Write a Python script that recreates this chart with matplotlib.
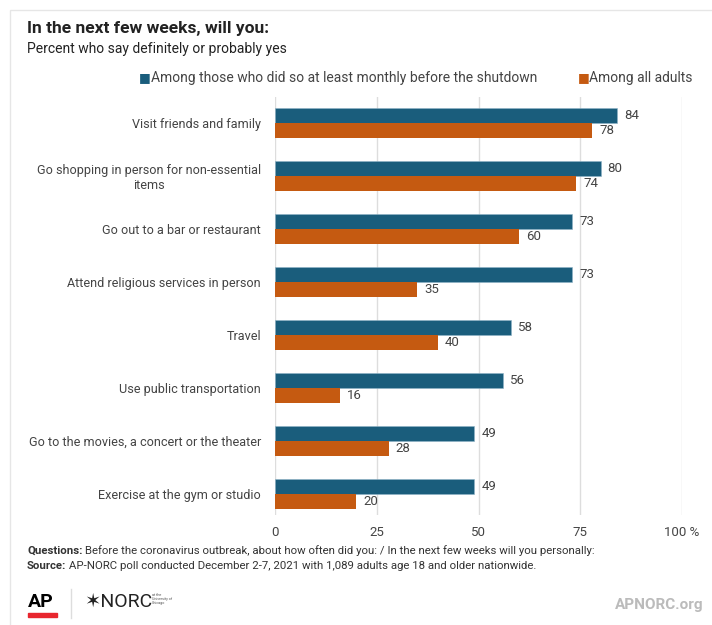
import numpy as np
import matplotlib.pyplot as plt
from matplotlib.patches import Rectangle

FONT = ['Roboto', 'DejaVu Sans']
plt.rcParams['font.family'] = FONT

categories = ["Visit friends and family",
              "Go shopping in person for non-essential\nitems",
              "Go out to a bar or restaurant",
              "Attend religious services in person",
              "Travel",
              "Use public transportation",
              "Go to the movies, a concert or the theater",
              "Exercise at the gym or studio"]
monthly = [84, 80, 73, 73, 58, 56, 49, 49]
all_adults = [78, 74, 60, 35, 40, 16, 28, 20]
series_names = ["Among those who did so at least monthly before the shutdown",
                "Among all adults"]

BLUE = '#1a5d7c'
ORANGE = '#c55a11'
TXT = '#444444'

fig = plt.figure(figsize=(7.12, 6.25), dpi=100)
W, H = 712, 625

def fx(px):
    return px / W

def fy(py):
    return 1 - py / H

# light frame
fig.patches.append(Rectangle((fx(10), fy(640)), 1, fy(10) - fy(640), transform=fig.transFigure,
                             fill=False, edgecolor='#e6e6e6', lw=1))

ax = fig.add_axes([fx(275), fy(515), fx(682) - fx(275), fy(97) - fy(515)])
y = np.arange(len(categories))
h = 0.283
ax.barh(y - h / 2, monthly, height=h, color=BLUE, edgecolor='#8fb3c6', lw=0.4, zorder=3)
ax.barh(y + h / 2, all_adults, height=h, color=ORANGE, zorder=3)
for i in range(len(categories)):
    ax.text(monthly[i] + 1.7, y[i] - h / 2, str(monthly[i]), va='center', ha='left',
            fontsize=9.5, color=TXT)
    ax.text(all_adults[i] + 1.7, y[i] + h / 2, str(all_adults[i]), va='center', ha='left',
            fontsize=9.5, color=TXT)

ax.set_xlim(0, 100)
ax.set_ylim(7.40, -0.49)
ax.set_xticks([0, 25, 50, 75, 100])
ax.set_xticklabels(['0', '25', '50', '75', '100 %'])
ax.set_yticks(y)
ax.set_yticklabels(categories, multialignment='center')
ax.tick_params(axis='both', length=0, labelsize=9.5, labelcolor=TXT)
ax.tick_params(axis='y', pad=10, labelsize=9.1)
ax.tick_params(axis='x', pad=8)
ax.grid(axis='x', color='#dddddd', lw=1, zorder=0)
for s in ax.spines.values():
    s.set_visible(False)

# titles
fig.text(fx(27), fy(21), "In the next few weeks, will you:", fontsize=12.5, fontweight='bold',
         color='#222222', va='top')
fig.text(fx(27), fy(42), "Percent who say definitely or probably yes", fontsize=10,
         color='#222222', va='top')

# legend
fig.text(fx(139), fy(78), "\u25a0", color=BLUE, fontsize=9, va='center', family='DejaVu Sans')
fig.text(fx(151), fy(78), series_names[0], color=TXT, fontsize=10, va='center')
fig.text(fx(578), fy(78), "\u25a0", color=ORANGE, fontsize=9, va='center', family='DejaVu Sans')
fig.text(fx(589), fy(78), series_names[1], color=TXT, fontsize=10, va='center')

# notes
t1 = fig.text(fx(27), fy(551), "Questions:", fontsize=8.2, fontweight='bold', color='#333333',
              va='center')
ax.annotate(" Before the coronavirus outbreak, about how often did you: / In the next few weeks will you personally:",
            xy=(1, 0), xycoords=t1, va='bottom', fontsize=8.2, color='#333333')
t2 = fig.text(fx(27), fy(566), "Source:", fontsize=8.2, fontweight='bold', color='#333333',
              va='center')
ax.annotate(" AP-NORC poll conducted December 2-7, 2021 with 1,089 adults age 18 and older nationwide.",
            xy=(1, 0), xycoords=t2, va='bottom', fontsize=8.2, color='#333333')

# logos
fig.text(fx(28), fy(607), "AP", fontsize=14, fontweight='bold', color='black', va='baseline')
fig.patches.append(Rectangle((fx(28), fy(617)), fx(57) - fx(28), fy(613) - fy(617),
                             transform=fig.transFigure, color='#e8262e'))
fig.lines.append(plt.Line2D([fx(71), fx(71)], [fy(589), fy(618)], transform=fig.transFigure,
                            color='#dddddd', lw=1))
fig.text(fx(84), fy(607), "\u2736NORC", fontsize=14, color='#222222', va='baseline')
fig.text(fx(152), fy(599), "at the\nUniversity of\nChicago", fontsize=2.6, color='#555555',
         va='center', linespacing=1.1)
fig.text(fx(704), fy(605), "APNORC.org", fontsize=11, fontweight='bold', color='#bbbbbb',
         ha='right', va='center')

fig.savefig('out.png', dpi=100)
